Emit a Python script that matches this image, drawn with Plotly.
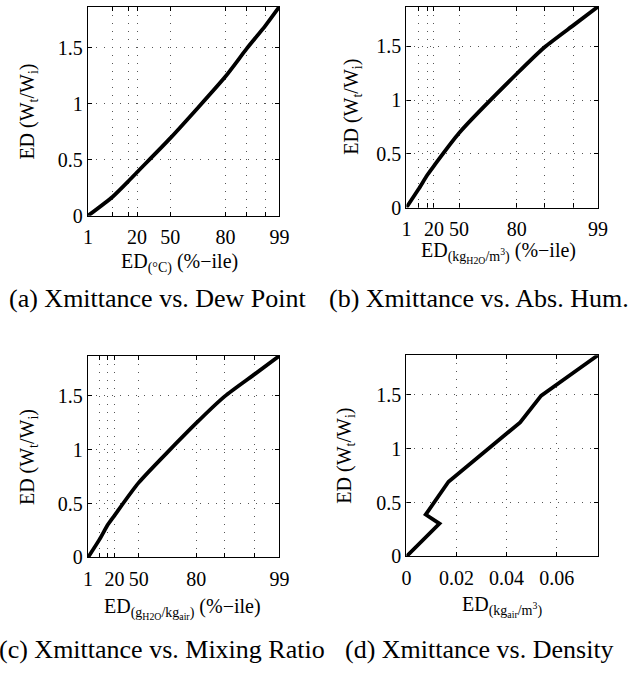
import plotly.graph_objects as go

# ---------------- data ----------------
pct_ticks = [1, 5, 10, 20, 50, 80, 90, 95, 99]
pct_labels = ["1", "", "", "20", "50", "80", "", "", "99"]
# ED (Wt/Wi) value at each percentile
ed_ratio = [0, 0.17, 0.305, 0.389, 0.694, 1.245, 1.494, 1.70, 1.87]
# position of each percentile on the (normalised) underlying variable scale
dew_point_pos = [0, 0.129, 0.209, 0.256, 0.430, 0.718, 0.829, 0.927, 1.0]
abs_hum_pos = [0, 0.063, 0.110, 0.144, 0.275, 0.576, 0.722, 0.874, 1.0]
mix_ratio_pos = [0, 0.061, 0.104, 0.138, 0.265, 0.565, 0.714, 0.871, 1.0]
# density ED values (kg_air/m^3) at the same percentiles
density = [0, 0.0076, 0.0132, 0.0077, 0.0168, 0.0454, 0.0538, 0.0662, 0.0765]

y_ticks = [0, 0.5, 1, 1.5]
y_tick_labels = ["0", "0.5", "1", "1.5"]
density_ticks = [0, 0.02, 0.04, 0.06]
density_tick_labels = ["0", "0.02", "0.04", "0.06"]

captions = ["(a) Xmittance vs. Dew Point", "(b) Xmittance vs. Abs. Hum.",
            "(c) Xmittance vs. Mixing Ratio", "(d) Xmittance vs. Density"]
x_titles = ["ED<sub>(°C)</sub> (%−ile)",
            "ED<sub>(kg<sub>H2O</sub>/m<sup>3</sup>)</sub> (%−ile)",
            "ED<sub>(g<sub>H2O</sub>/kg<sub>air</sub>)</sub> (%−ile)",
            "ED<sub>(kg<sub>air</sub>/m<sup>3</sup>)</sub>"]
y_title = "ED (W<sub>t</sub>/W<sub>i</sub>)"

# ---------------- layout geometry (pixels) ----------------
W, H = 641, 676
FONT = "Liberation Serif, Times New Roman, serif"
frames = [  # x0, x1, ytop, ybottom
    (85, 281, 6.7, 219.3),
    (411, 607.3, 6.7, 211),
    (85, 281, 361.7, 566.7),
    (411, 607.3, 361, 565.7),
]
ylab_x = [24, 355, 24, 349]
xlab_pos = [(178.5, 267), (505, 257), (182, 619), (509, 617)]
cap_pos = [(157, 303), (485, 303), (161, 660), (486, 660)]

def px(x):
    return x / W

def py(y):
    return 1 - y / H

fig = go.Figure()
xs = [dew_point_pos, abs_hum_pos, mix_ratio_pos, density]
for i in range(4):
    sfx = "" if i == 0 else str(i + 1)
    if i < 3:
        ln = dict(color="black", width=3.8, shape="spline", smoothing=0.6)
    else:
        ln = dict(color="black", width=3.8)
    fig.add_trace(go.Scatter(x=xs[i], y=ed_ratio, mode="lines", line=ln,
                             xaxis="x" + sfx, yaxis="y" + sfx,
                             hoverinfo="skip", showlegend=False))

layout = dict(width=W, height=H, margin=dict(l=0, r=0, t=0, b=0),
              paper_bgcolor="white", plot_bgcolor="white",
              font=dict(family=FONT, size=20, color="black"),
              showlegend=False, annotations=[])

grid_common = dict(showgrid=True, gridcolor="#555", gridwidth=1,
                   griddash="1px,7px", zeroline=False,
                   showline=True, linecolor="black", linewidth=1.3,
                   mirror="allticks", ticks="inside", ticklen=4,
                   tickcolor="black", tickwidth=1,
                   tickfont=dict(family=FONT, size=20, color="black"))

for i in range(4):
    sfx = "" if i == 0 else str(i + 1)
    x0, x1, yt, yb = frames[i]
    if i < 3:
        xt = dict(tickmode="array", tickvals=xs[i], ticktext=pct_labels,
                  range=[0, 1])
    else:
        xt = dict(tickmode="array", tickvals=density_ticks,
                  ticktext=density_tick_labels, range=[0, 0.0765])
    layout["xaxis" + sfx] = dict(domain=[px(x0), px(x1)], anchor="y" + sfx,
                                 ticklabelstandoff=3, **xt, **grid_common)
    layout["yaxis" + sfx] = dict(domain=[py(yb), py(yt)], anchor="x" + sfx,
                                 range=[0, 1.87], tickmode="array",
                                 tickvals=y_ticks, ticktext=y_tick_labels,
                                 **grid_common)
    layout["annotations"].append(dict(
        text=y_title, x=px(ylab_x[i]), y=py((yt + yb) / 2), xref="paper",
        yref="paper", xanchor="center", yanchor="middle", textangle=-90,
        showarrow=False, font=dict(family=FONT, size=20, color="black")))
    layout["annotations"].append(dict(
        text=x_titles[i], x=px(xlab_pos[i][0]), y=py(xlab_pos[i][1]),
        xref="paper", yref="paper", xanchor="center", yanchor="middle",
        showarrow=False, font=dict(family=FONT, size=20, color="black")))
    layout["annotations"].append(dict(
        text=captions[i], x=px(cap_pos[i][0]), y=py(cap_pos[i][1]),
        xref="paper", yref="paper", xanchor="center", yanchor="middle",
        showarrow=False, font=dict(family=FONT, size=26, color="black")))

fig.update_layout(**layout)
fig.write_html("out.html")
